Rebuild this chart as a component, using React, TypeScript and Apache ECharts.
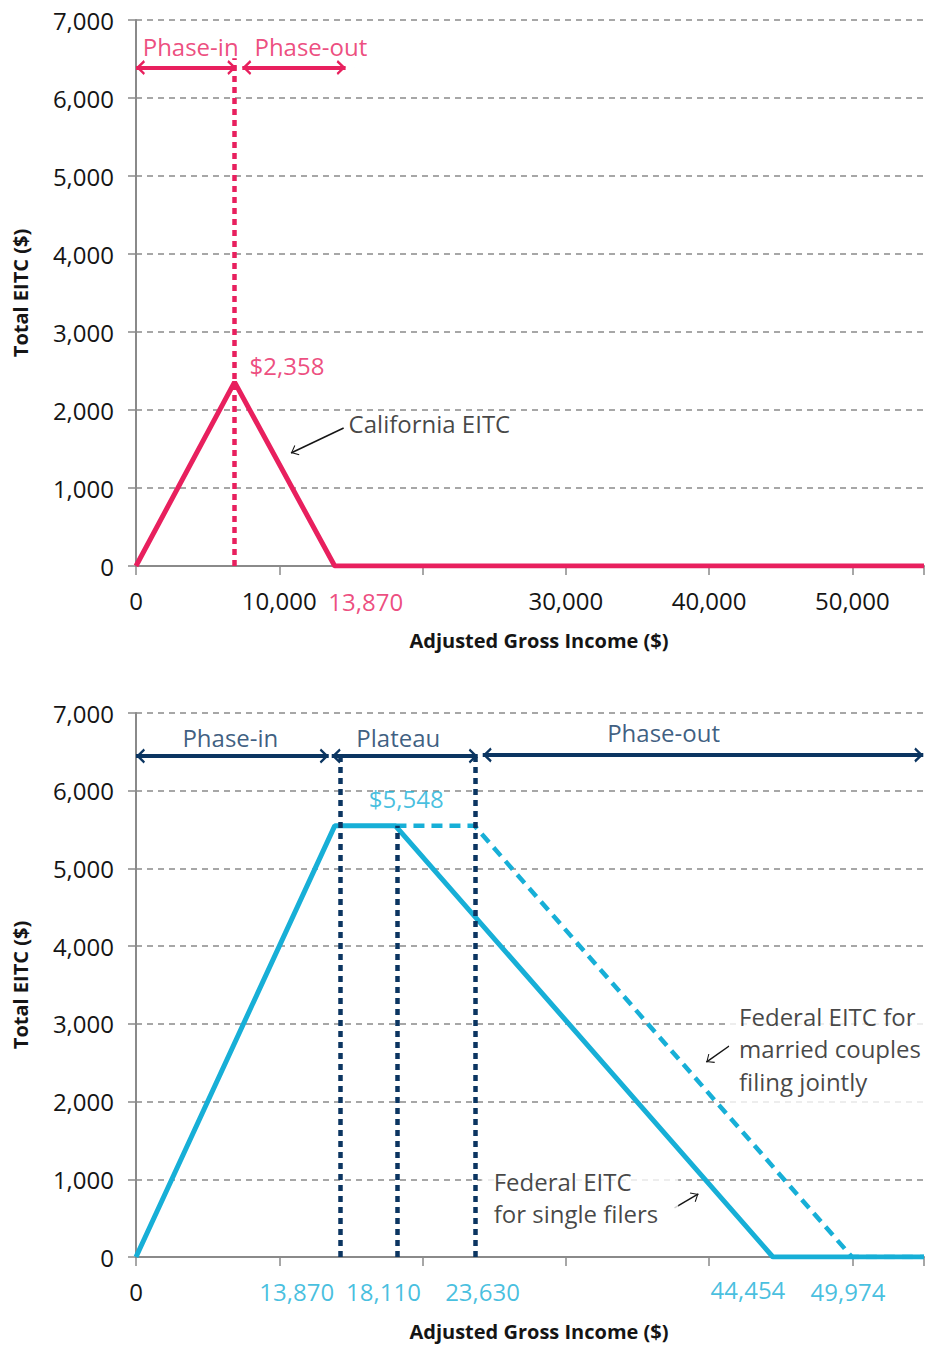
import React, { useEffect, useRef } from 'react';
import * as echarts from 'echarts';

// ---- Data ----
const caIncome = [0, 6880, 13870, 55000];
const caCredit = [0, 2358, 0, 0];
const singleIncome = [0, 13870, 18110, 44454, 55000];
const singleCredit = [0, 5548, 5548, 0, 0];
const marriedIncome = [18110, 23630, 49974, 55000];
const marriedCredit = [5548, 5548, 0, 0];
const yTicks = [0, 1000, 2000, 3000, 4000, 5000, 6000, 7000];
const topXLabels = [0, 10000, 30000, 40000, 50000];
const caLabelValues = [13870];
const fedLabelValues = [13870, 18110, 23630, 44454, 49974];
const caPeak = 2358;
const fedMax = 5548;

const PINK = '#E8205E';
const CYAN = '#17AFD7';
const NAVY = '#0B3561';
const GRAY = '#8a8a8a';
const INK = '#151515';
const FONT = '"Open Sans", Lato, sans-serif';
const ANN = 24;
const TICK = 24;

const fmt = (v: number) => v.toLocaleString('en-US');
const zip = (xs: number[], ys: number[]) => xs.map((x, i) => [x, ys[i]]);

// chevron pointing "up", tip centered in bbox
const chevronBold = 'path://M5,0 L10,7 L8.6,8.2 L5,3.2 L1.4,8.2 L0,7 Z M4.95,-8.2 L5.05,-8.2 L5,-8.15 Z';
const chevronThin = 'path://M5,0 L10,6.2 L9.3,6.9 L5,1.5 L0.7,6.9 L0,6.2 Z M4.95,-6.9 L5.05,-6.9 L5,-6.85 Z';

function arrow(x1: number, y1: number, x2: number, y2: number, color: string, width: number, bothEnds: boolean, bold: boolean) {
  const sym = bold ? chevronBold : chevronThin;
  const size = bold ? [15, 18] : [11, 14];
  const ls = { color, width, type: 'solid' as const };
  return [
    { coord: [x1, y1], symbol: bothEnds ? sym : 'none', symbolSize: size, lineStyle: ls },
    { coord: [x2, y2], symbol: sym, symbolSize: size, lineStyle: ls },
  ];
}

function vDotted(x: number, yBottom: number, yTop: number, color: string) {
  const ls = { color, width: 4.5, type: [6, 5] as any };
  return [
    { coord: [x, yBottom], symbol: 'none', lineStyle: ls },
    { coord: [x, yTop], symbol: 'none', lineStyle: ls },
  ];
}

function txt(x: number, y: number, text: string, color: string, opts: any = {}) {
  return {
    value: [x, y],
    label: {
      show: true,
      position: 'inside',
      formatter: text,
      color,
      fontSize: ANN,
      fontFamily: FONT,
      align: 'center',
      verticalAlign: 'middle',
      ...opts,
    },
  };
}

function xAxis(gridIndex: number, formatter: (v: number) => string) {
  return {
    type: 'value',
    gridIndex,
    min: 0,
    max: 55000,
    interval: 10000,
    axisLine: { show: true, lineStyle: { color: GRAY, width: 2 } },
    axisTick: { show: true, length: 9, lineStyle: { color: GRAY, width: 1.5 } },
    splitLine: { show: false },
    axisLabel: { formatter, fontSize: TICK, color: INK, margin: 22, fontFamily: FONT },
    name: 'Adjusted Gross Income ($)',
    nameLocation: 'middle',
    nameGap: 64,
    nameTextStyle: { fontWeight: 'bold', fontSize: 20, color: INK, fontFamily: FONT, padding: [0, 0, 0, 18] },
  };
}

function yAxis(gridIndex: number) {
  return {
    type: 'value',
    gridIndex,
    min: yTicks[0],
    max: yTicks[yTicks.length - 1],
    interval: 1000,
    axisLine: { show: true, lineStyle: { color: GRAY, width: 2 } },
    axisTick: { show: true, length: 8, lineStyle: { color: GRAY, width: 1.5 } },
    splitLine: { show: true, lineStyle: { color: GRAY, width: 1.5, type: [6, 5] } },
    axisLabel: { formatter: (v: number) => fmt(v), fontSize: TICK, color: INK, margin: 22, fontFamily: FONT },
    name: 'Total EITC ($)',
    nameLocation: 'middle',
    nameGap: 106,
    nameTextStyle: { fontWeight: 'bold', fontSize: 20, color: INK, fontFamily: FONT },
  };
}

export default function App() {
  const ref = useRef<HTMLDivElement>(null);
  useEffect(() => {
    document.body.style.margin = '0';
    if (!ref.current) return;
    const chart = echarts.init(ref.current, undefined, { renderer: 'svg' });
    const option: any = {
      animation: false,
      backgroundColor: '#fff',
      textStyle: { fontFamily: FONT },
      grid: [
        { left: 136, top: 20, width: 793, height: 546 },
        { left: 136, top: 713, width: 793, height: 544 },
      ],
      xAxis: [
        xAxis(0, (v: number) => (topXLabels.includes(v) ? fmt(v) : '')),
        xAxis(1, (v: number) => (v === 0 ? '0' : '')),
      ],
      yAxis: [yAxis(0), yAxis(1)],
      series: [
        // --- top chart ---
        {
          type: 'line',
          xAxisIndex: 0,
          yAxisIndex: 0,
          data: zip(caIncome, caCredit),
          showSymbol: false,
          symbol: 'none',
          lineStyle: { color: PINK, width: 5 },
          z: 3,
        },
        {
          type: 'scatter',
          xAxisIndex: 0,
          yAxisIndex: 0,
          symbolSize: 0,
          silent: true,
          z: 5,
          data: [
            txt(3814, 6654, 'Phase-in', PINK),
            txt(12205, 6654, 'Phase-out', PINK),
            txt(caIncome[1], caPeak, '$' + fmt(caPeak), PINK, { align: 'left', offset: [15, -17] }),
            txt(14840, 1833, 'California EITC', INK, { align: 'left' }),
            ...caLabelValues.map((v) => txt(v, 0, fmt(v), PINK, { fontSize: TICK, offset: [31, 35] })),
          ],
          markLine: {
            silent: true,
            symbol: 'none',
            label: { show: false },
            data: [
              vDotted(caIncome[1], 0, 6510, PINK),
              arrow(0, 6390, 7000, 6390, PINK, 4, true, true),
              arrow(7420, 6390, 14630, 6390, PINK, 4, true, true),
              arrow(14494, 1769, 10818, 1449, INK, 1.5, false, false),
            ],
          },
        },
        // --- bottom chart ---
        {
          type: 'line',
          xAxisIndex: 1,
          yAxisIndex: 1,
          data: zip(marriedIncome, marriedCredit),
          showSymbol: false,
          symbol: 'none',
          lineStyle: { color: CYAN, width: 4.5, type: [11, 7] },
          z: 3,
        },
        {
          type: 'line',
          xAxisIndex: 1,
          yAxisIndex: 1,
          data: zip(singleIncome, singleCredit),
          showSymbol: false,
          symbol: 'none',
          lineStyle: { color: CYAN, width: 5 },
          z: 4,
        },
        {
          type: 'scatter',
          xAxisIndex: 1,
          yAxisIndex: 1,
          symbolSize: 0,
          silent: true,
          z: 5,
          data: [
            txt(6588, 6691, 'Phase-in', NAVY),
            txt(18308, 6691, 'Plateau', NAVY),
            txt(36824, 6743, 'Phase-out', NAVY),
            txt(18863, 5894, '$' + fmt(fedMax), CYAN),
            txt(42094, 2677, 'Federal EITC for\nmarried couples\nfiling jointly', INK, {
              align: 'left',
              lineHeight: 32.5,
              backgroundColor: '#fff',
              padding: [6, 30, 6, 10],
              offset: [-10, 0],
            }),
            txt(24965, 772, 'Federal EITC\nfor single filers', INK, {
              align: 'left',
              lineHeight: 32,
              backgroundColor: '#fff',
              padding: [4, 20, 4, 12],
              offset: [-12, 0],
            }),
            ...fedLabelValues.map((v, i) =>
              txt(v, 0, fmt(v), CYAN, { fontSize: TICK, offset: [[-38, -12, 8, -25, -4][i], [34, 34, 34, 32, 34][i]] })
            ),
          ],
          markLine: {
            silent: true,
            symbol: 'none',
            label: { show: false },
            data: [
              vDotted(14230, 0, 6434, NAVY),
              vDotted(18240, 0, fedMax, NAVY),
              vDotted(23650, 0, 6434, NAVY),
              arrow(0, 6447, 13450, 6447, NAVY, 4, true, true),
              arrow(13660, 6447, 23850, 6447, NAVY, 4, true, true),
              arrow(24200, 6460, 54950, 6460, NAVY, 4, true, true),
              arrow(41401, 2715, 39806, 2509, INK, 1.5, false, false),
              arrow(37587, 631, 39251, 811, INK, 1.5, false, false),
            ],
          },
        },
      ],
    };
    chart.setOption(option);
    return () => chart.dispose();
  }, []);
  return <div ref={ref} style={{ width: 927, height: 1347 }} />;
}
